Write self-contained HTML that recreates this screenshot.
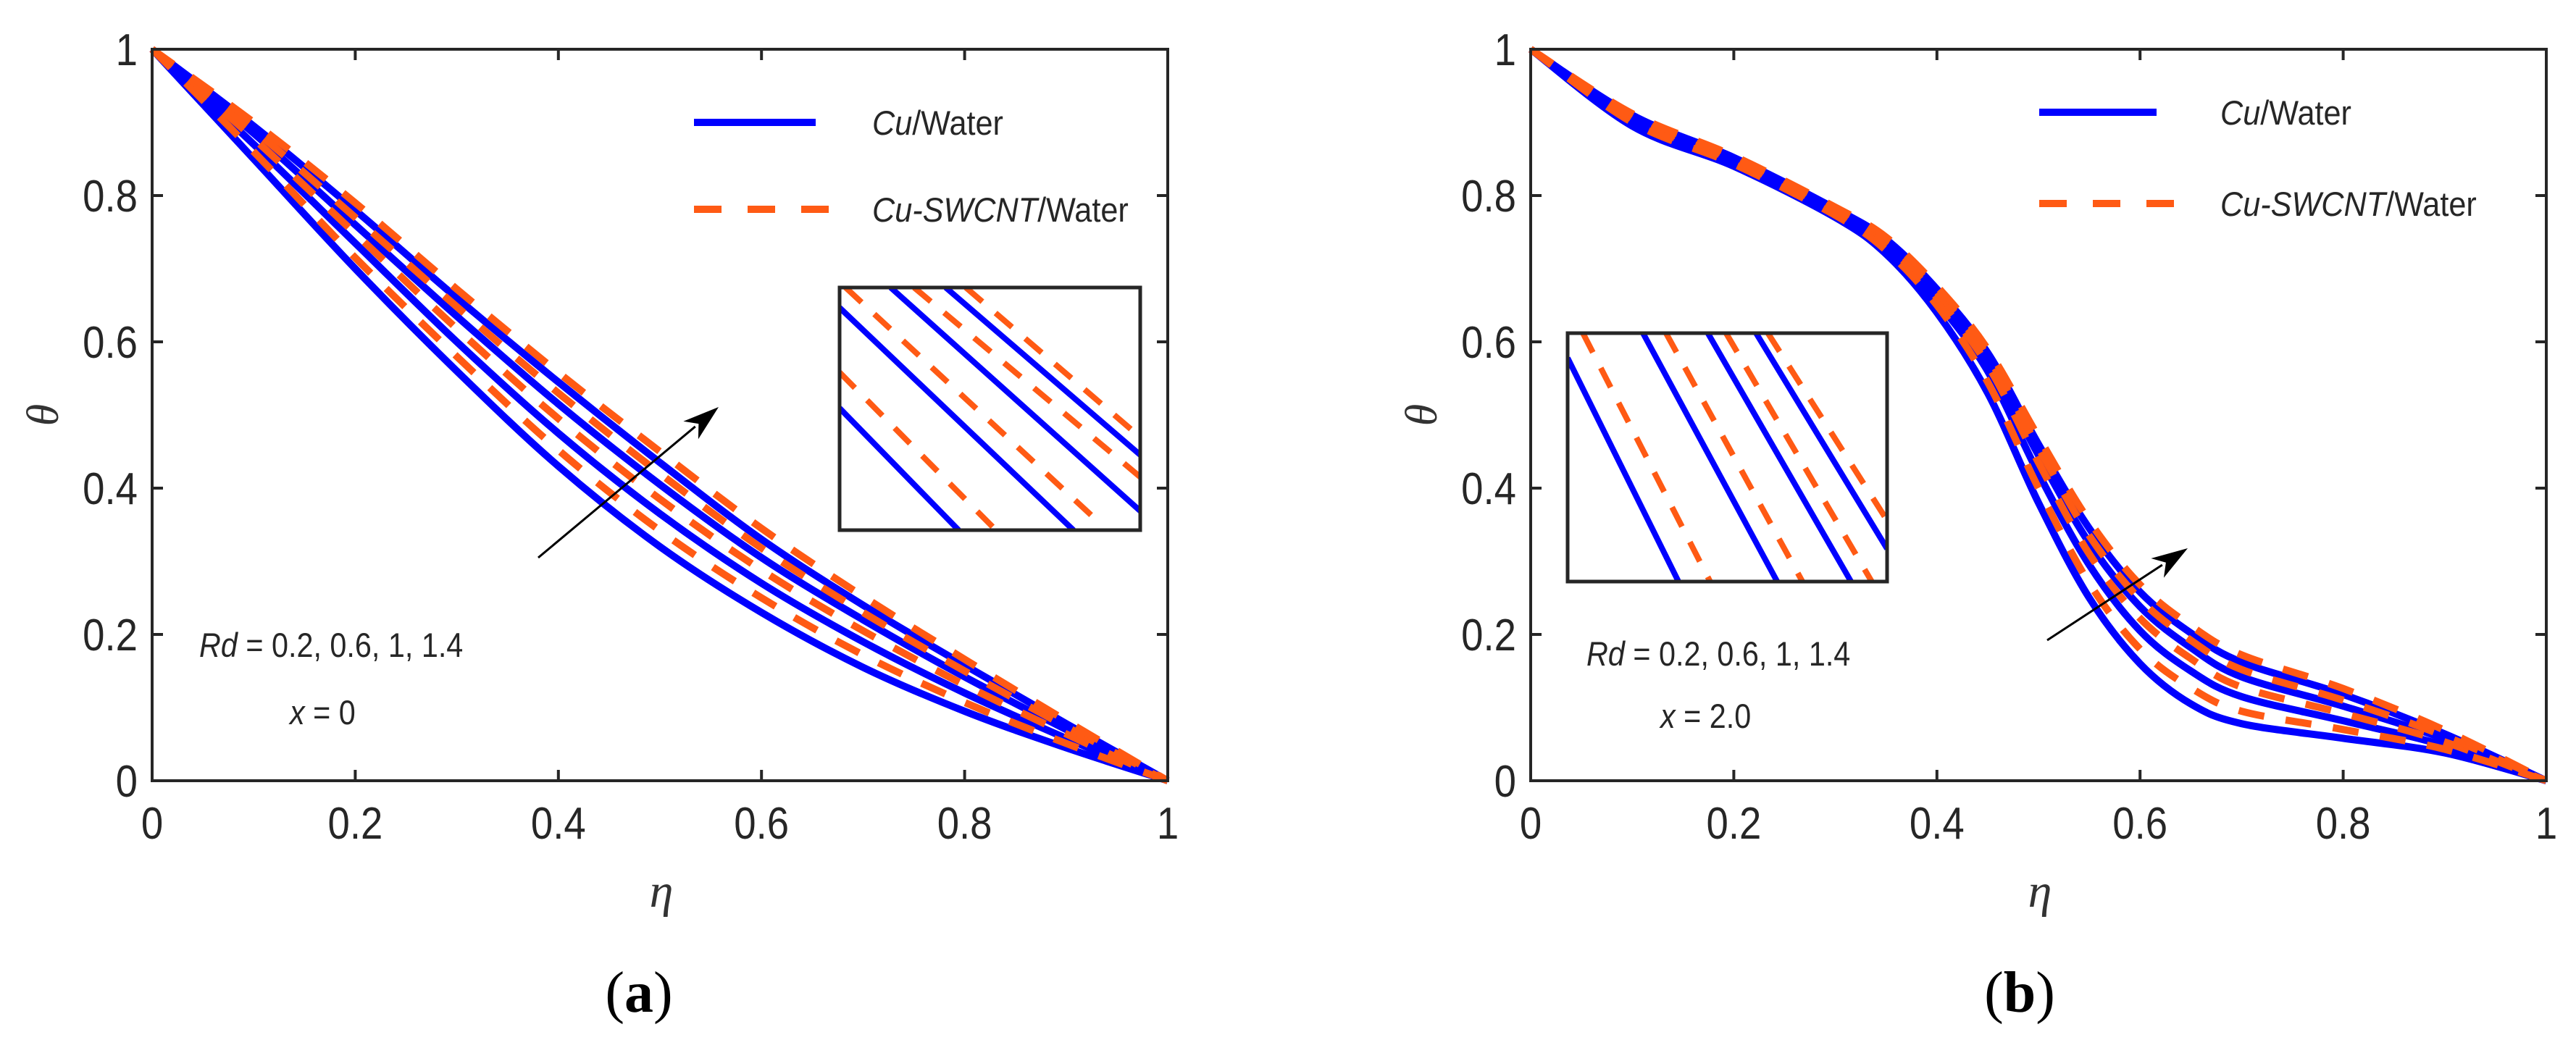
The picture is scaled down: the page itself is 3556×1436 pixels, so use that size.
<!DOCTYPE html>
<html><head><meta charset="utf-8"><style>
html,body{margin:0;padding:0;background:#fff;}
svg{display:block;}
text{font-family:"Liberation Sans",Arial,sans-serif;fill:#262626;}
</style></head><body>
<svg id="fig" width="3556" height="1436" viewBox="0 0 3556 1436" xmlns="http://www.w3.org/2000/svg"></svg>
<script>
// ---- data ----
const ticks = [0, 0.2, 0.4, 0.6, 0.8, 1];
const tickLabels = ["0", "0.2", "0.4", "0.6", "0.8", "1"];
const rdValues = ["0.2", "0.6", "1", "1.4"];
const etaA = [0, 0.1, 0.2, 0.3, 0.4, 0.5, 0.6, 0.7, 0.8, 0.9, 1];
const solidA1 = [1, 0.85, 0.70, 0.56, 0.43, 0.32, 0.23, 0.155, 0.095, 0.045, 0];
const solidA2 = [1, 0.87, 0.735, 0.60, 0.475, 0.365, 0.27, 0.19, 0.12, 0.058, 0];
const solidA3 = [1, 0.885, 0.76, 0.635, 0.515, 0.405, 0.305, 0.22, 0.142, 0.07, 0];
const solidA4 = [1, 0.895, 0.78, 0.66, 0.545, 0.435, 0.33, 0.24, 0.158, 0.078, 0];
const dashA1 = [1, 0.86, 0.715, 0.58, 0.452, 0.342, 0.25, 0.172, 0.107, 0.051, 0];
const dashA2 = [1, 0.878, 0.748, 0.618, 0.495, 0.385, 0.288, 0.205, 0.131, 0.064, 0];
const dashA3 = [1, 0.89, 0.77, 0.648, 0.53, 0.42, 0.318, 0.23, 0.15, 0.074, 0];
const dashA4 = [1, 0.9, 0.79, 0.672, 0.558, 0.45, 0.345, 0.252, 0.166, 0.082, 0];
const etaB = [0, 0.1, 0.2, 0.3, 0.35, 0.4, 0.45, 0.5, 0.55, 0.6, 0.65, 0.7, 0.8, 0.9, 1];
const solidB1 = [1, 0.895, 0.84, 0.77, 0.72, 0.64, 0.53, 0.38, 0.25, 0.16, 0.105, 0.078, 0.058, 0.038, 0];
const solidB2 = [1, 0.90, 0.845, 0.775, 0.73, 0.655, 0.56, 0.42, 0.295, 0.205, 0.15, 0.115, 0.082, 0.048, 0];
const solidB3 = [1, 0.905, 0.85, 0.78, 0.735, 0.665, 0.575, 0.445, 0.325, 0.238, 0.182, 0.142, 0.102, 0.057, 0];
const solidB4 = [1, 0.91, 0.852, 0.782, 0.74, 0.672, 0.585, 0.46, 0.345, 0.258, 0.202, 0.162, 0.118, 0.064, 0];
const dashB1 = [1, 0.90, 0.843, 0.773, 0.725, 0.65, 0.545, 0.40, 0.27, 0.18, 0.127, 0.095, 0.07, 0.043, 0];
const dashB2 = [1, 0.905, 0.848, 0.778, 0.733, 0.66, 0.568, 0.435, 0.31, 0.222, 0.167, 0.128, 0.092, 0.053, 0];
const dashB3 = [1, 0.908, 0.851, 0.781, 0.738, 0.668, 0.58, 0.455, 0.335, 0.248, 0.192, 0.152, 0.11, 0.061, 0];
const dashB4 = [1, 0.912, 0.854, 0.784, 0.743, 0.676, 0.59, 0.47, 0.355, 0.268, 0.212, 0.172, 0.126, 0.069, 0];

const NS = "http://www.w3.org/2000/svg";
const svg = document.getElementById("fig");
const BLUE = "#0000ff", ORANGE = "#ff5a14", AX = "#262626";
function mk(tag, attrs, parent) {
  const e = document.createElementNS(NS, tag);
  for (const k in attrs) e.setAttribute(k, attrs[k]);
  (parent || svg).appendChild(e);
  return e;
}
function spline(pts) {
  let d = "M" + pts[0][0].toFixed(1) + "," + pts[0][1].toFixed(1);
  for (let i = 0; i < pts.length - 1; i++) {
    const p0 = pts[Math.max(0, i - 1)], p1 = pts[i], p2 = pts[i + 1], p3 = pts[Math.min(pts.length - 1, i + 2)];
    const c1 = [p1[0] + (p2[0] - p0[0]) / 6, p1[1] + (p2[1] - p0[1]) / 6];
    const c2 = [p2[0] - (p3[0] - p1[0]) / 6, p2[1] - (p3[1] - p1[1]) / 6];
    d += " C" + c1.join(",") + " " + c2.join(",") + " " + p2.join(",");
  }
  return d;
}
function label(txt, x, y, size, anchor, sx, italic, parent) {
  const t = mk("text", {transform: "translate(" + x + "," + y + ") scale(" + sx + ",1)", "font-size": size, "text-anchor": anchor}, parent);
  if (italic) t.setAttribute("font-style", "italic");
  t.textContent = txt;
  return t;
}

function panel(cfg) {
  const L = cfg.left, T = 68, W = 1402, H = 1010, B = T + H;
  const g = mk("g", {});
  
  
  const xs = v => L + v * W, ys = v => B - v * H;
  const cg = mk("g", {fill: "none", "stroke-width": 10, "stroke-linejoin": "round"}, g);
  cfg.solids.forEach((s, i) => {
    const p = mk("path", {d: spline(cfg.eta.map((e, j) => [xs(e), ys(s[j])])), stroke: BLUE}, cg);
    
    
  });
  cfg.dashes.forEach((s, i) => {
    const p = mk("path", {d: spline(cfg.eta.map((e, j) => [xs(e), ys(s[j])])), stroke: ORANGE, "stroke-dasharray": "36 30"}, cg);
    
    
  });
  const box = mk("rect", {x: L, y: T, width: W, height: H, fill: "none", stroke: AX, "stroke-width": 4}, g);
  
  
  ticks.forEach((t, i) => {
    const x = xs(t), y = ys(t);
    mk("line", {x1: x, y1: B, x2: x, y2: B - 15, stroke: AX, "stroke-width": 4}, g);
    mk("line", {x1: x, y1: T, x2: x, y2: T + 15, stroke: AX, "stroke-width": 4}, g);
    mk("line", {x1: L, y1: y, x2: L + 15, y2: y, stroke: AX, "stroke-width": 4}, g);
    mk("line", {x1: L + W, y1: y, x2: L + W - 15, y2: y, stroke: AX, "stroke-width": 4}, g);
    const xl = label(tickLabels[i], x, 1158, 62, "middle", 0.88, false, g);
    
    
    const yl = label(tickLabels[i], L - 20, y + 22, 62, "end", 0.88, false, g);
    
    
  });
  const xt = mk("text", {x: L + 703, y: 1252, "font-size": 66, "text-anchor": "middle", "font-style": "italic", style: "font-family:'Liberation Serif','DejaVu Serif',serif;fill:#333"}, g);
  xt.textContent = "η";
  
  
  const yt = mk("text", {transform: "translate(" + (L - 130) + ",573) rotate(-90)", "font-size": 62, "text-anchor": "middle", "font-style": "italic", style: "font-family:'Liberation Serif','DejaVu Serif',serif;fill:#333"}, g);
  yt.textContent = "θ";
  
  
  const lg = mk("g", {}, g);
  
  
  const lz = cfg.legend;
  mk("line", {x1: lz.x1, y1: lz.y1, x2: lz.x2, y2: lz.y1, stroke: BLUE, "stroke-width": 10}, lg);
  mk("line", {x1: lz.x1, y1: lz.y2, x2: lz.x3, y2: lz.y2, stroke: ORANGE, "stroke-width": 10, "stroke-dasharray": "38 36"}, lg);
  const t1 = mk("text", {transform: "translate(" + lz.tx + "," + (lz.y1 + 17) + ") scale(0.92,1)", "font-size": 47}, lg);
  t1.innerHTML = '<tspan font-style="italic">Cu</tspan>/Water';
  
  
  const t2 = mk("text", {transform: "translate(" + lz.tx + "," + (lz.y2 + 17) + ") scale(0.92,1)", "font-size": 47}, lg);
  t2.innerHTML = '<tspan font-style="italic">Cu-SWCNT</tspan>/Water';
  
  
  const ig = mk("g", {}, g);
  
  
  const I = cfg.inset;
  const clipId = "clip" + cfg.name;
  const cp = mk("clipPath", {id: clipId}, ig);
  mk("rect", {x: I.x, y: I.y, width: I.w, height: I.h}, cp);
  const il = mk("g", {"clip-path": "url(#" + clipId + ")", "stroke-width": 8, fill: "none"}, ig);
  I.lines.forEach(l => {
    const ln = mk("line", {x1: I.x + l[0] * I.w, y1: I.y + l[1] * I.h, x2: I.x + l[2] * I.w, y2: I.y + l[3] * I.h, stroke: l[4] ? ORANGE : BLUE}, il);
    if (l[4]) ln.setAttribute("stroke-dasharray", "30 24");
  });
  mk("rect", {x: I.x, y: I.y, width: I.w, height: I.h, fill: "none", stroke: AX, "stroke-width": 5}, ig);
  const A = cfg.arrow;
  const ag = mk("g", {}, g);
  
  
  const ang = Math.atan2(A[3] - A[1], A[2] - A[0]);
  const bx = A[2] - 42 * Math.cos(ang), by = A[3] - 42 * Math.sin(ang);
  mk("line", {x1: A[0], y1: A[1], x2: bx, y2: by, stroke: "#000", "stroke-width": 3}, ag);
  const px = -Math.sin(ang), py = Math.cos(ang);
  mk("path", {d: "M" + A[2] + "," + A[3] + " L" + (bx + 16 * px - 8 * Math.cos(ang)) + "," + (by + 16 * py - 8 * Math.sin(ang)) + " L" + (bx + 6 * Math.cos(ang)) + "," + (by + 6 * Math.sin(ang)) + " L" + (bx - 16 * px - 8 * Math.cos(ang)) + "," + (by - 16 * py - 8 * Math.sin(ang)) + "Z", fill: "#000"}, ag);
  const r = mk("text", {transform: "translate(" + cfg.rd[0] + "," + cfg.rd[1] + ") scale(0.88,1)", "font-size": 47}, g);
  r.innerHTML = '<tspan font-style="italic">Rd</tspan> = ' + rdValues.join(", ");
  
  
  const xa = mk("text", {transform: "translate(" + cfg.xa[0] + "," + cfg.xa[1] + ") scale(0.88,1)", "font-size": 47}, g);
  xa.innerHTML = '<tspan font-style="italic">x</tspan> = ' + cfg.xval;
  
  
  const cap = mk("text", {x: cfg.cap, y: 1397, "font-size": 80, "text-anchor": "middle", style: "font-family:'Liberation Serif','DejaVu Serif',serif;fill:#000"}, g);
  cap.innerHTML = '(<tspan font-weight="bold">' + cfg.letter + '</tspan>)';
  
  
}

panel({
  name: "panel-a", left: 210, eta: etaA,
  solids: [solidA1, solidA2, solidA3, solidA4],
  dashes: [dashA1, dashA2, dashA3, dashA4],
  legend: {x1: 958, x2: 1126, x3: 1146, y1: 169, y2: 289, tx: 1204},
  inset: {x: 1159, y: 397, w: 415, h: 335, lines: [
    [0, 0.497, 0.396, 1, 0], [0, 0.083, 0.778, 1, 0], [0.170, 0, 1, 0.921, 0], [0.353, 0, 1, 0.690, 0],
    [0, 0.350, 0.520, 1, 1], [0.020, 0, 0.862, 0.967, 1], [0.248, 0, 1, 0.781, 1], [0.420, 0, 1, 0.617, 1]]},
  arrow: [743, 770, 992, 562],
  rd: [275, 907], xa: [400, 1000], xval: "0", cap: 882, letter: "a"
});
panel({
  name: "panel-b", left: 2113, eta: etaB,
  solids: [solidB1, solidB2, solidB3, solidB4],
  dashes: [dashB1, dashB2, dashB3, dashB4],
  legend: {x1: 2815, x2: 2977, x3: 3001, y1: 155, y2: 281, tx: 3065},
  inset: {x: 2164, y: 460, w: 441, h: 343, lines: [
    [0, 0.1, 0.347, 1, 0], [0.236, 0, 0.656, 1, 0], [0.439, 0, 0.887, 1, 0], [0.590, 0, 1, 0.868, 0],
    [0.048, 0, 0.446, 1, 1], [0.308, 0, 0.735, 1, 1], [0.496, 0, 0.952, 1, 1], [0.627, 0, 1, 0.754, 1]]},
  arrow: [2826, 884, 3020, 757],
  rd: [2190, 919], xa: [2292, 1005], xval: "2.0", cap: 2788, letter: "b"
});
</script>
</body></html>
